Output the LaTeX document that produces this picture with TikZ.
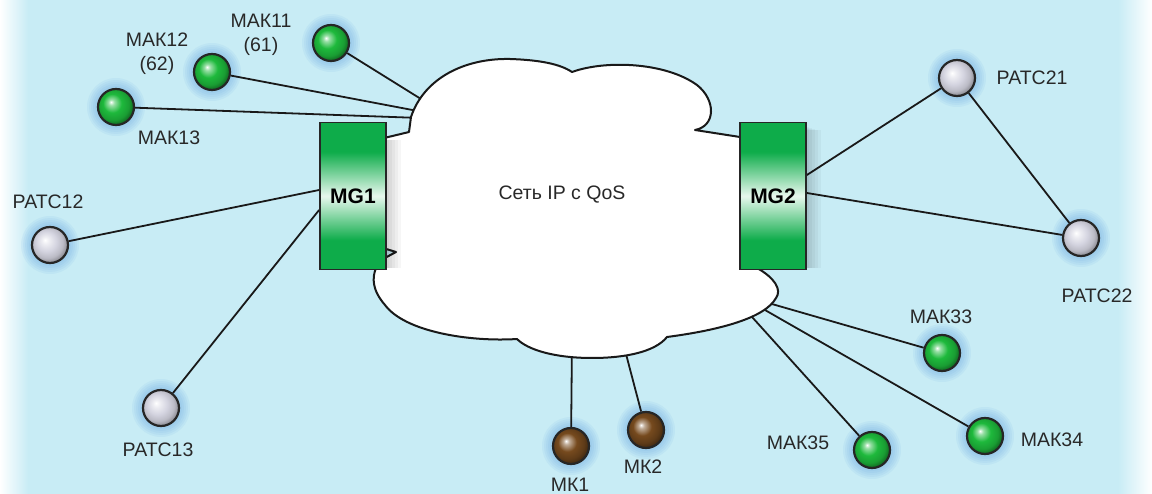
\documentclass[tikz,border=0pt]{standalone}
\usepackage{fontspec}
\setmainfont{Liberation Sans}

\definecolor{bgc}{RGB}{200,236,245}
\definecolor{halo}{RGB}{95,160,225}
\definecolor{mgg}{RGB}{14,172,74}
\definecolor{mgl}{RGB}{232,248,238}
\definecolor{ballg}{RGB}{30,185,60}
\definecolor{ballw}{RGB}{212,212,224}
\definecolor{ballb}{RGB}{118,74,30}
\definecolor{txt}{RGB}{40,40,40}

% gateway fill: green at both ends, pale band across the middle
\pgfdeclareverticalshading{mgshade}{100bp}{color(0bp)=(mgg); color(35bp)=(mgg); color(50bp)=(mgl); color(65bp)=(mgg); color(100bp)=(mgg)}
% spheres lit from the upper left
\pgfdeclareradialshading{gsphere}{\pgfqpoint{-7bp}{7bp}}{color(0bp)=(white); color(4bp)=(ballg!45!white); color(13bp)=(ballg); color(22bp)=(ballg!85!black); color(28bp)=(ballg!55!black); color(50bp)=(black)}
\pgfdeclareradialshading{wsphere}{\pgfqpoint{-7bp}{7bp}}{color(0bp)=(white); color(5bp)=(ballw!40!white); color(14bp)=(ballw); color(22bp)=(ballw!88!black); color(28bp)=(ballw!65!black); color(50bp)=(black)}
\pgfdeclareradialshading{bsphere}{\pgfqpoint{-7bp}{7bp}}{color(0bp)=(white); color(4bp)=(ballb!45!white); color(13bp)=(ballb); color(22bp)=(ballb!80!black); color(28bp)=(ballb!55!black); color(50bp)=(black)}

\pgfdeclarelayer{back}
\pgfdeclarelayer{glow}
\pgfdeclarelayer{wires}
\pgfdeclarelayer{cloudl}
\pgfsetlayers{back,glow,wires,cloudl,main}

\tikzset{
  ball/.style={circle, minimum size=36, inner sep=0, draw=black!85, line width=2.2, shade},
  greenball/.style={ball, shading=gsphere},
  greyball/.style={ball, shading=wsphere},
  brownball/.style={ball, shading=bsphere},
  mgbox/.style={draw=black!85, line width=1.8, minimum width=66, minimum height=147,
    inner sep=0, shade, shading=mgshade, font=\bfseries\fontsize{21}{24}\selectfont},
  lbl/.style={font=\fontsize{19.5}{24}\selectfont, text=txt, align=center, inner sep=0},
  wire/.style={draw=black!90, line width=1.8},
  cloudline/.style={draw=black!90, line width=2, fill=white, line join=round},
}

\begin{document}
\begin{tikzpicture}[x=1pt, y=-1pt]
\useasboundingbox (0,0) rectangle (1152,494);

\begin{pgfonlayer}{back}
  \fill[bgc] (0,0) rectangle (1152,494);
  \shade[left color=white, right color=bgc] (0,0) rectangle (28,494);
  \shade[left color=bgc, right color=white] (1118,0) rectangle (1152,494);
\end{pgfonlayer}

% terminals
\node[greenball] (mak11) at (331,43) {};
\node[greenball] (mak12) at (212,72) {};
\node[greenball] (mak13) at (116,107) {};
\node[greyball]  (patc12) at (50,245) {};
\node[greyball]  (patc13) at (161,408) {};
\node[greyball]  (patc21) at (957,78) {};
\node[greyball]  (patc22) at (1081,238) {};
\node[greenball] (mak33) at (942,353) {};
\node[greenball] (mak34) at (985,436) {};
\node[greenball] (mak35) at (872,450) {};
\node[brownball] (mk1) at (571,446) {};
\node[brownball] (mk2) at (646,430) {};

% soft glow round each terminal
\begin{pgfonlayer}{glow}
  \foreach \n in {mak11,mak12,mak13,patc12,patc13,patc21,patc22,mak33,mak34,mak35,mk1,mk2}
    \foreach \r in {19,21,...,29}
      \fill[halo, opacity=0.09] (\n.center) circle (\r);
\end{pgfonlayer}

% attachment points just inside the cloud edge
\coordinate (c11) at (429,104);
\coordinate (c12) at (423,112);
\coordinate (c13) at (420,118);
\coordinate (cm1) at (572,340);
\coordinate (cm2) at (621,335);
\coordinate (c33) at (758,300);
\coordinate (c34) at (744,298);
\coordinate (c35) at (743,307);

% the IP network cloud
\begin{pgfonlayer}{cloudl}
\path[cloudline] (380,139) -- (409,132) -- (411,117)
  .. controls (424,78) and (465,58) .. (510,59)
  .. controls (540,60) and (560,64) .. (572,72)
  .. controls (605,60) and (665,62) .. (697,85)
  .. controls (716,100) and (716,126) .. (695,130)
  -- (740,137) -- (795,140) -- (795,265) -- (757,268)
  .. controls (775,278) and (782,290) .. (776,298)
  .. controls (765,318) and (720,330) .. (667,337)
  .. controls (655,352) and (625,358) .. (592,358)
  .. controls (555,358) and (528,350) .. (517,339)
  .. controls (470,342) and (405,332) .. (385,305)
  .. controls (372,290) and (372,278) .. (376,268)
  -- (383,259) -- (396,252) -- (383,248) -- (380,240) -- cycle;
  % shade cast by the gateways
  \foreach \d in {3,6,...,15}
    \fill[black, opacity=0.035] (386,140) rectangle (386+\d,268);
  \foreach \d in {3,6,...,15}
    \fill[black, opacity=0.035] (806,126+\d*0.3) rectangle (806+\d,268);
\end{pgfonlayer}
\node[lbl] (net) at (562,195) {Сеть IP с QoS};

% media gateways
\node[mgbox] (mg1) at (353,196) {MG1};
\node[mgbox] (mg2) at (773,196) {MG2};

\begin{pgfonlayer}{wires}
  \draw[wire] (mak11) -- (c11);
  \draw[wire] (mak12) -- (c12);
  \draw[wire] (mak13) -- (c13);
  \draw[wire] (patc12) -- ([yshift=6pt]mg1.west);
  \draw[wire] (patc13) -- ([yshift=-14pt]mg1.west);
  \draw[wire] ([yshift=21pt]mg2.east) -- (patc21);
  \draw[wire] ([yshift=3pt]mg2.east) -- (patc22);
  \draw[wire] (patc21) -- (patc22);
  \draw[wire] (cm1) -- (mk1);
  \draw[wire] (cm2) -- (mk2);
  \draw[wire] (c33) -- (mak33);
  \draw[wire] (c34) -- (mak34);
  \draw[wire] (c35) -- (mak35);
\end{pgfonlayer}

% labels
\node[lbl] (l11) at (261,35) {МАК11\\(61)};
\node[lbl] (l12) at (157,54) {МАК12\\(62)};
\node[lbl] (l13) at (169,138) {МАК13};
\node[lbl] (lp12) at (48,202) {РАТС12};
\node[lbl] (lp13) at (158,450) {РАТС13};
\node[lbl] (lp21) at (1032,78) {РАТС21};
\node[lbl] (lp22) at (1097,296) {РАТС22};
\node[lbl] (l33) at (941,317) {МАК33};
\node[lbl] (l34) at (1052,440) {МАК34};
\node[lbl] (l35) at (798,443) {МАК35};
\node[lbl] (lm1) at (570,485) {МК1};
\node[lbl] (lm2) at (643,467) {МК2};
\end{tikzpicture}
\end{document}
